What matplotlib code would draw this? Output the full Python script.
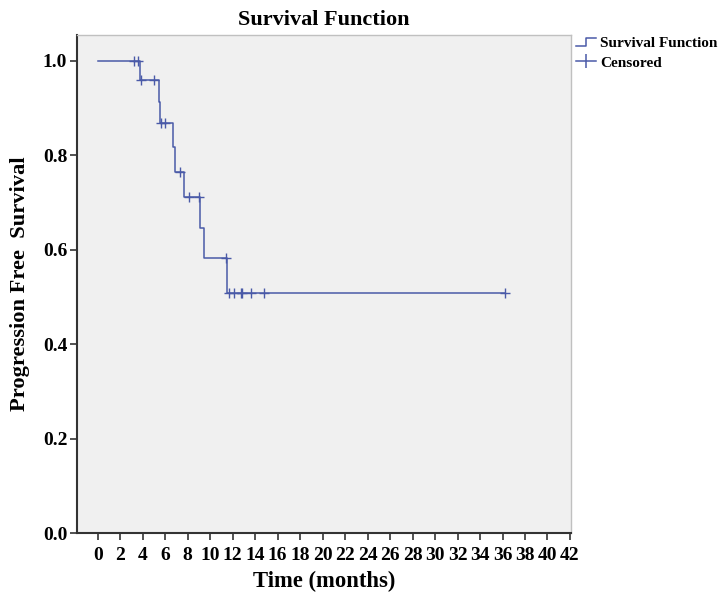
import numpy as np
import matplotlib
matplotlib.use("Agg")
import matplotlib.pyplot as plt
from matplotlib.lines import Line2D
from matplotlib.legend_handler import HandlerBase

# Data: observation times (months) and event flags (1 = progression, 0 = censored)
times = [3.2, 3.6, 3.76, 3.8, 5.0, 5.4, 5.5, 5.6, 6.0, 6.7, 6.85, 7.3, 7.7,
         8.15, 9.04, 9.1, 9.45, 11.4, 11.5, 11.7, 12.15, 12.7, 12.85, 13.6,
         14.8, 36.2]
events = [0, 0, 1, 0, 0, 1, 1, 0, 0, 1, 1, 0, 1,
          0, 0, 1, 1, 0, 1, 0, 0, 0, 0, 0,
          0, 0]
xticks = list(range(0, 43, 2))
yticks = [0.0, 0.2, 0.4, 0.6, 0.8, 1.0]

plt.rcParams['font.family'] = ['Liberation Serif', 'DejaVu Serif']
plt.rcParams['font.weight'] = 'bold'

# Kaplan-Meier estimate
t = np.array(times)
e = np.array(events)
order = np.argsort(t, kind='stable')
t, e = t[order], e[order]
n = len(t)
s = 1.0
step_x = [0.0]
step_y = [1.0]
cens_x, cens_y = [], []
for i, (ti, ei) in enumerate(zip(t, e)):
    at_risk = n - i
    if ei == 1:
        step_x.append(ti); step_y.append(s)
        s = s * (at_risk - 1) / at_risk
        step_x.append(ti); step_y.append(s)
    else:
        cens_x.append(ti); cens_y.append(s)
step_x.append(t.max()); step_y.append(s)

color = '#4a5aa8'


class StepHandler(HandlerBase):
    def create_artists(self, legend, orig_handle, xdescent, ydescent,
                       width, height, fontsize, trans):
        x0, y0 = -xdescent, -ydescent
        xs = [x0, x0 + width * 0.5, x0 + width * 0.5, x0 + width]
        ys = [y0 + height * 0.05, y0 + height * 0.05,
              y0 + height * 0.8, y0 + height * 0.8]
        ln = Line2D(xs, ys, color=orig_handle.get_color(),
                    lw=orig_handle.get_linewidth())
        ln.set_transform(trans)
        return [ln]


fig = plt.figure(figsize=(7.23, 5.96), dpi=100)
ax = fig.add_axes([0.1065, 0.1057, 0.6826, 0.8356])
ax.set_facecolor('#f0f0f0')
ax.plot(step_x, step_y, color=color, lw=1.1)
ax.plot(cens_x, cens_y, linestyle='none', marker='+', color=color,
        markersize=7, markeredgewidth=1.0)

ax.set_xlim(-1.85, 42.05)
ax.set_ylim(0, 1.054)
ax.set_xticks(xticks)
ax.set_xticklabels([str(v) for v in xticks])
ax.set_yticks(yticks)
ax.set_yticklabels([f"{v:.1f}" for v in yticks])
ax.tick_params(axis='both', direction='out', length=5, width=1.2,
               labelsize=14, color='#333333')
ax.tick_params(axis='x', pad=5)
ax.tick_params(axis='y', pad=2)
for sp in ['left', 'bottom']:
    ax.spines[sp].set_color('#333333')
    ax.spines[sp].set_linewidth(1.5)
for sp in ['top', 'right']:
    ax.spines[sp].set_color('#c0c0c0')
    ax.spines[sp].set_linewidth(1.0)

ax.set_title('Survival Function', fontsize=16, fontweight='bold', pad=7)
ax.set_xlabel('Time (months)', fontsize=16.3, fontweight='bold', labelpad=5)
ax.set_ylabel('Progression Free  Survival', fontsize=16.2, fontweight='bold',
              labelpad=9)

surv_handle = Line2D([], [], color=color, lw=1.1)
cens_handle = Line2D([], [], color=color, lw=1.1, marker='|', markersize=10,
                     markeredgewidth=1.1, linestyle='-')
fig.legend([surv_handle, cens_handle], ['Survival Function', 'Censored'],
           handler_map={surv_handle: StepHandler()},
           loc='upper left', bbox_to_anchor=(0.782, 0.957), frameon=False,
           prop={'size': 11.0, 'weight': 'bold'}, handlelength=1.3,
           handletextpad=0.25, borderpad=0.2, labelspacing=0.4)

fig.savefig('out.png', dpi=100)
